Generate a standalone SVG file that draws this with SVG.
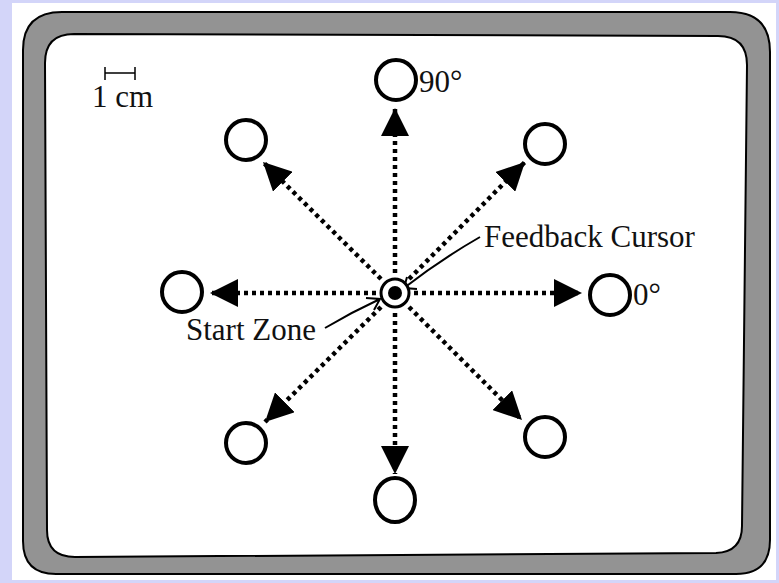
<svg xmlns="http://www.w3.org/2000/svg" width="779" height="583" viewBox="0 0 779 583">
<style>
.t{font-family:"Liberation Serif","Times New Roman",serif;font-size:31px;fill:#111}
.tgt{fill:none;stroke:#000;stroke-width:4}
.dot{stroke:#000;stroke-width:4.5;stroke-dasharray:4 4;fill:none}
.lead{stroke:#000;stroke-width:2;fill:none}
</style>
<defs>
<marker id="ah" viewBox="0 0 28 28" refX="28" refY="14" markerWidth="28" markerHeight="28" markerUnits="userSpaceOnUse" orient="auto">
<path d="M0,0 L28,14 L0,28 Z" fill="#000"/>
</marker>
</defs>
<rect x="0" y="0" width="779" height="583" fill="#d3d5f9"/>
<rect x="12" y="3" width="764" height="577" fill="#fff"/>
<g id="frame">
<path fill-rule="evenodd" fill="#939393" stroke="#000" stroke-width="2" d="M62,12 L730,12 Q770,12 770,52 L770,540 Q770,574 736,574 L56,574 Q23,574 23,541 L23,50 Q23,12 62,12 Z M74,34 L718,36 Q747,36 747,65 L742,526 Q742,552 716,553 L75,557 Q47,557 47,530 L45,63 Q45,34 74,34 Z"/>
</g>
<g id="scale">
<path d="M105,73 H135 M105,67 V80 M135,67 V80" stroke="#000" stroke-width="1.5" fill="none"/>
<text class="t" x="92" y="107">1 cm</text>
</g>
<g id="connectors">
<line class="dot" x1="414" y1="293" x2="582" y2="293" marker-end="url(#ah)"/>
<line class="dot" x1="376" y1="293" x2="210" y2="293" marker-end="url(#ah)"/>
<line class="dot" x1="395" y1="273" x2="395" y2="108" marker-end="url(#ah)"/>
<line class="dot" x1="395" y1="313" x2="395" y2="474" marker-end="url(#ah)"/>
<line class="dot" x1="381" y1="279" x2="263" y2="162" marker-end="url(#ah)"/>
<line class="dot" x1="409" y1="279" x2="525" y2="162" marker-end="url(#ah)"/>
<line class="dot" x1="381" y1="307" x2="265" y2="422" marker-end="url(#ah)"/>
<line class="dot" x1="409" y1="307" x2="522" y2="420" marker-end="url(#ah)"/>
<path class="lead" d="M480,237 Q440,260 404,288 M407,277 L404,288 L417,289"/>
<path class="lead" d="M325,328 Q352,312 380,299 M366,298 L380,299 L374,310"/>
</g>
<g id="start-zone">
<circle cx="395" cy="293" r="14" fill="#fff" stroke="#000" stroke-width="3"/>
<circle cx="395" cy="293" r="7" fill="#000"/>
</g>
<g id="target-90"><circle class="tgt" cx="396" cy="80" r="20"/><text class="t" x="419" y="92">90°</text></g>
<g id="target-0"><circle class="tgt" cx="610" cy="295" r="20"/><text class="t" x="633" y="305">0°</text></g>
<g id="target-180"><circle class="tgt" cx="182" cy="292" r="20"/></g>
<g id="target-270"><ellipse class="tgt" cx="395" cy="500" rx="20" ry="22"/></g>
<g id="target-135"><circle class="tgt" cx="246" cy="140" r="20"/></g>
<g id="target-45"><circle class="tgt" cx="545" cy="144" r="20"/></g>
<g id="target-225"><circle class="tgt" cx="246" cy="443" r="20"/></g>
<g id="target-315"><circle class="tgt" cx="545" cy="437" r="20"/></g>
<g id="labels">
<text class="t" x="484" y="247">Feedback Cursor</text>
<text class="t" x="186" y="340">Start Zone</text>
</g>
</svg>
